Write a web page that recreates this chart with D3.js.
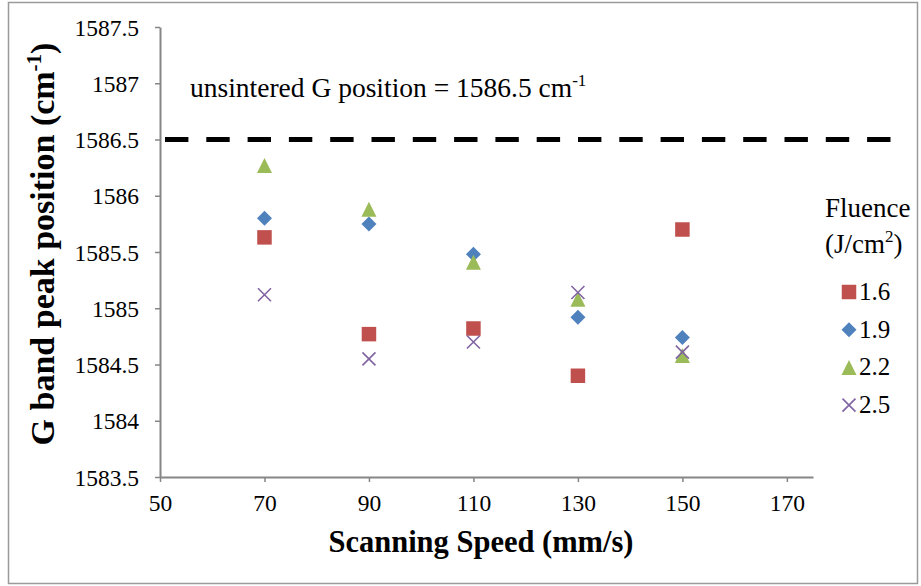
<!DOCTYPE html>
<html>
<head>
<meta charset="utf-8">
<script src="https://cdn.jsdelivr.net/npm/d3@7"></script>
<style>
  body { margin: 0; background: #fff; }
  svg text { font-family: "Liberation Serif", "Times New Roman", serif; fill: #000; }
</style>
</head>
<body>
<svg id="chart" width="921" height="586"></svg>
<script>
// chart data
var speeds = [70, 90, 110, 130, 150];
var fluences = ["1.6", "1.9", "2.2", "2.5"];
var peak16 = [1585.63, 1584.77, 1584.82, 1584.40, 1585.70];
var peak19 = [1585.80, 1585.75, 1585.48, 1584.92, 1584.74];
var peak22 = [1586.27, 1585.88, 1585.41, 1585.08, 1584.58];
var peak25 = [1585.12, 1584.55, 1584.70, 1585.14, 1584.61];
var xTicks = [50, 70, 90, 110, 130, 150, 170];
var yTicks = [1583.5, 1584, 1584.5, 1585, 1585.5, 1586, 1586.5, 1587, 1587.5];
var unsintered = 1586.5;

var series = [
    {name: fluences[0], values: peak16, color: "#C0504D", shape: "square"},
    {name: fluences[1], values: peak19, color: "#4F81BD", shape: "diamond"},
    {name: fluences[2], values: peak22, color: "#9BBB59", shape: "triangle"},
    {name: fluences[3], values: peak25, color: "#8064A2", shape: "cross"}
];

var svg = d3.select("#chart");

// chart area border
svg.append("rect")
    .attr("x", 8.5).attr("y", 2.5)
    .attr("width", 909).attr("height", 581)
    .attr("fill", "#fff")
    .attr("stroke", "#9a9a9a")
    .attr("stroke-width", 1.5);

var xScale = d3.scaleLinear().domain([50, 175]).range([160, 813]);
var yScale = d3.scaleLinear().domain([1583.5, 1587.5]).range([477, 27]);

var axisColor = "#868686";

var xAxis = svg.append("g")
    .attr("transform", "translate(0," + yScale(1583.5) + ")")
    .call(d3.axisBottom(xScale).tickValues(xTicks).tickSize(5).tickPadding(12).tickSizeOuter(0));

var yAxis = svg.append("g")
    .attr("transform", "translate(" + xScale(50) + ",0)")
    .call(d3.axisLeft(yScale).tickValues(yTicks).tickSize(5).tickPadding(16).tickSizeOuter(0)
        .tickFormat(function(d) { return String(d); }));

[xAxis, yAxis].forEach(function(ax) {
    ax.select(".domain").attr("stroke", axisColor).attr("stroke-width", 2);
    ax.selectAll(".tick line").attr("stroke", axisColor).attr("stroke-width", 1.5);
    ax.selectAll(".tick text")
        .style("font-family", "Liberation Serif, Times New Roman, serif")
        .style("font-size", "23.5px")
        .attr("fill", "#000");
});
yAxis.selectAll(".tick text").attr("dy", "0.35em");

// unsintered reference line
svg.append("line")
    .attr("x1", 165).attr("x2", 891)
    .attr("y1", yScale(unsintered)).attr("y2", yScale(unsintered))
    .attr("stroke", "#000")
    .attr("stroke-width", 5)
    .attr("stroke-dasharray", "23.4,17.9");

var note = svg.append("text")
    .attr("x", 190).attr("y", 97)
    .style("font-size", "27.5px");
note.append("tspan").text("unsintered G position = " + unsintered + " cm");
note.append("tspan").attr("dy", -11).style("font-size", "17px").text("-1");

// marker shapes
function markerPath(shape, s) {
    var h = s / 2;
    if (shape === "square") return d3.symbol(d3.symbolSquare, s * s)();
    if (shape === "diamond") return "M0," + (-h) + "L" + h + ",0L0," + h + "L" + (-h) + ",0Z";
    if (shape === "triangle") return "M0," + (-h) + "L" + h + "," + h + "L" + (-h) + "," + h + "Z";
    return "M" + (-h) + "," + (-h) + "L" + h + "," + h + "M" + (-h) + "," + h + "L" + h + "," + (-h);
}

function drawMarker(g, d) {
    var size = d.shape === "square" ? 14.5 : (d.shape === "cross" ? 13 : 15);
    var p = g.append("path").attr("d", markerPath(d.shape, size));
    if (d.shape === "cross") {
        p.attr("fill", "none").attr("stroke", d.color).attr("stroke-width", 1.6);
    } else {
        p.attr("fill", d.color);
    }
}

series.forEach(function(s) {
    svg.append("g").selectAll("g")
        .data(s.values)
        .enter()
        .append("g")
        .attr("transform", function(v, i) {
            return "translate(" + xScale(speeds[i]) + "," + yScale(v) + ")";
        })
        .each(function() { drawMarker(d3.select(this), s); });
});

// axis titles
svg.append("text")
    .attr("x", 481).attr("y", 552)
    .attr("text-anchor", "middle")
    .style("font-size", "30.5px")
    .style("font-weight", "bold")
    .text("Scanning Speed (mm/s)");

var yTitle = svg.append("text")
    .attr("transform", "translate(54,244) rotate(-90)")
    .attr("text-anchor", "middle")
    .style("font-size", "34px")
    .style("font-weight", "bold");
yTitle.append("tspan").text("G band peak position (cm");
yTitle.append("tspan").attr("dy", -13).style("font-size", "21px").text("-1");
yTitle.append("tspan").attr("dy", 13).text(")");

// legend
var legend = svg.append("g");
legend.append("text").attr("x", 825).attr("y", 217).style("font-size", "27px").text("Fluence");
var unit = legend.append("text").attr("x", 825).attr("y", 253).style("font-size", "27px");
unit.append("tspan").text("(J/cm");
unit.append("tspan").attr("dy", -11).style("font-size", "17px").text("2");
unit.append("tspan").attr("dy", 11).text(")");

var items = legend.selectAll(".item")
    .data(series)
    .enter()
    .append("g")
    .attr("class", "item")
    .attr("transform", function(d, i) { return "translate(849," + (292 + i * 37.7) + ")"; });
items.each(function(d) { drawMarker(d3.select(this), d); });
items.append("text")
    .attr("x", 10).attr("y", 8)
    .style("font-size", "25px")
    .text(function(d) { return d.name; });
</script>
</body>
</html>
